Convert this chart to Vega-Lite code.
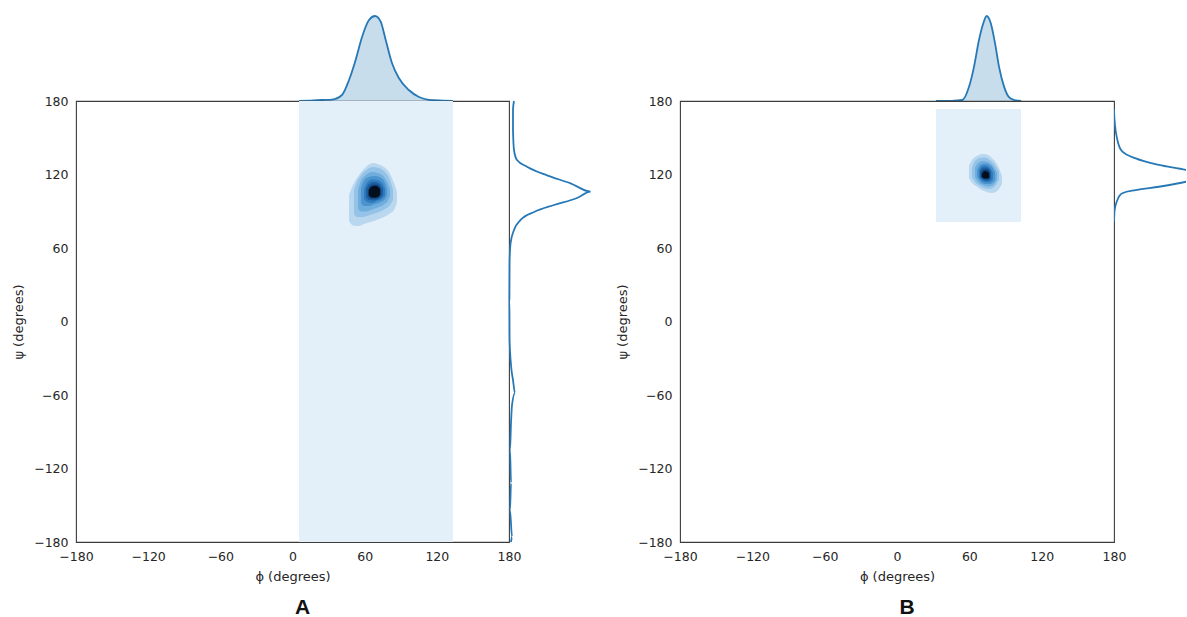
{
  "$schema": "https://vega.github.io/schema/vega-lite/v6.json",
  "background": "white",
  "padding": {"left": 12, "top": 0, "right": 0, "bottom": 0},
  "config": {
    "font": "DejaVu Sans",
    "view": {"stroke": null},
    "axis": {
      "domain": false, "ticks": false, "grid": false,
      "labelFontSize": 12.5, "titleFontSize": 13,
      "labelColor": "#262626", "titleColor": "#262626", "titleFontWeight": "normal",
      "labelPadding": 8, "titlePadding": 8,
      "labelFlush": false, "labelOverlap": false
    }
  },
  "datasets": {
    "bandA": [{"phi1": 5.4, "phi2": 133.4, "psi1": -180, "psi2": 180}],
    "bandB": [{"phi1": 32.3, "phi2": 102.9, "psi1": 81.2, "psi2": 173.5}],
    "contourA": [
      {"level": 1, "phi": 47.0, "lo": 82.0, "hi": 103.3},
      {"level": 1, "phi": 49.5, "lo": 78.8, "hi": 109.8},
      {"level": 1, "phi": 52.0, "lo": 78.0, "hi": 114.7},
      {"level": 1, "phi": 55.3, "lo": 78.0, "hi": 119.6},
      {"level": 1, "phi": 59.4, "lo": 79.6, "hi": 124.5},
      {"level": 1, "phi": 63.6, "lo": 80.8, "hi": 128.2},
      {"level": 1, "phi": 67.8, "lo": 82.0, "hi": 129.4},
      {"level": 1, "phi": 71.9, "lo": 83.7, "hi": 128.2},
      {"level": 1, "phi": 76.1, "lo": 85.3, "hi": 126.1},
      {"level": 1, "phi": 80.2, "lo": 87.8, "hi": 122.0},
      {"level": 1, "phi": 84.4, "lo": 91.0, "hi": 113.1},
      {"level": 1, "phi": 86.9, "lo": 97.1, "hi": 105.7},
      {"level": 2, "phi": 51.1, "lo": 87.8, "hi": 107.3},
      {"level": 2, "phi": 53.6, "lo": 85.3, "hi": 113.9},
      {"level": 2, "phi": 57.8, "lo": 85.3, "hi": 120.4},
      {"level": 2, "phi": 61.9, "lo": 86.1, "hi": 124.1},
      {"level": 2, "phi": 66.9, "lo": 87.8, "hi": 126.1},
      {"level": 2, "phi": 71.9, "lo": 89.4, "hi": 125.3},
      {"level": 2, "phi": 76.9, "lo": 91.8, "hi": 122.0},
      {"level": 2, "phi": 81.1, "lo": 95.1, "hi": 115.5},
      {"level": 2, "phi": 83.6, "lo": 99.2, "hi": 107.3},
      {"level": 3, "phi": 54.5, "lo": 92.2, "hi": 107.3},
      {"level": 3, "phi": 56.9, "lo": 89.8, "hi": 114.7},
      {"level": 3, "phi": 61.1, "lo": 89.8, "hi": 119.6},
      {"level": 3, "phi": 66.1, "lo": 91.4, "hi": 122.0},
      {"level": 3, "phi": 71.1, "lo": 93.1, "hi": 121.2},
      {"level": 3, "phi": 76.1, "lo": 95.5, "hi": 118.0},
      {"level": 3, "phi": 79.4, "lo": 98.8, "hi": 112.2},
      {"level": 3, "phi": 81.1, "lo": 102.4, "hi": 107.3},
      {"level": 4, "phi": 56.9, "lo": 96.7, "hi": 108.2},
      {"level": 4, "phi": 59.4, "lo": 94.3, "hi": 114.7},
      {"level": 4, "phi": 63.6, "lo": 94.3, "hi": 118.0},
      {"level": 4, "phi": 68.6, "lo": 95.9, "hi": 118.8},
      {"level": 4, "phi": 73.6, "lo": 97.6, "hi": 117.1},
      {"level": 4, "phi": 76.9, "lo": 100.0, "hi": 113.1},
      {"level": 4, "phi": 78.6, "lo": 103.3, "hi": 108.2},
      {"level": 5, "phi": 59.4, "lo": 100.0, "hi": 107.3},
      {"level": 5, "phi": 61.9, "lo": 97.6, "hi": 113.1},
      {"level": 5, "phi": 66.1, "lo": 96.7, "hi": 115.9},
      {"level": 5, "phi": 70.2, "lo": 98.4, "hi": 115.5},
      {"level": 5, "phi": 74.4, "lo": 100.0, "hi": 113.1},
      {"level": 5, "phi": 76.9, "lo": 103.3, "hi": 108.2},
      {"level": 6, "phi": 61.1, "lo": 101.6, "hi": 108.2},
      {"level": 6, "phi": 63.6, "lo": 99.2, "hi": 112.2},
      {"level": 6, "phi": 67.8, "lo": 98.8, "hi": 113.9},
      {"level": 6, "phi": 71.9, "lo": 100.0, "hi": 112.7},
      {"level": 6, "phi": 75.2, "lo": 103.3, "hi": 108.2},
      {"level": 7, "phi": 62.8, "lo": 102.4, "hi": 107.3},
      {"level": 7, "phi": 65.3, "lo": 100.4, "hi": 111.0},
      {"level": 7, "phi": 68.6, "lo": 100.4, "hi": 111.8},
      {"level": 7, "phi": 71.9, "lo": 101.2, "hi": 110.6},
      {"level": 7, "phi": 73.6, "lo": 104.1, "hi": 107.3},
      {"level": 8, "phi": 63.6, "lo": 103.3, "hi": 107.3},
      {"level": 8, "phi": 66.1, "lo": 101.2, "hi": 110.2},
      {"level": 8, "phi": 69.4, "lo": 101.2, "hi": 110.6},
      {"level": 8, "phi": 72.7, "lo": 103.3, "hi": 108.2}
    ],
    "contourB": [
      {"level": 1, "phi": 59.7, "lo": 117.1, "hi": 126.9},
      {"level": 1, "phi": 62.2, "lo": 113.1, "hi": 131.8},
      {"level": 1, "phi": 65.5, "lo": 110.6, "hi": 134.7},
      {"level": 1, "phi": 68.8, "lo": 108.2, "hi": 136.3},
      {"level": 1, "phi": 72.2, "lo": 106.5, "hi": 136.7},
      {"level": 1, "phi": 75.5, "lo": 105.3, "hi": 135.9},
      {"level": 1, "phi": 78.8, "lo": 104.9, "hi": 133.5},
      {"level": 1, "phi": 82.1, "lo": 105.7, "hi": 129.8},
      {"level": 1, "phi": 84.6, "lo": 108.2, "hi": 125.3},
      {"level": 1, "phi": 87.1, "lo": 112.2, "hi": 118.8},
      {"level": 2, "phi": 62.2, "lo": 117.9, "hi": 125.3},
      {"level": 2, "phi": 64.7, "lo": 113.9, "hi": 131.0},
      {"level": 2, "phi": 68.8, "lo": 110.6, "hi": 133.5},
      {"level": 2, "phi": 73.0, "lo": 108.6, "hi": 133.9},
      {"level": 2, "phi": 77.1, "lo": 108.2, "hi": 131.8},
      {"level": 2, "phi": 81.3, "lo": 110.6, "hi": 127.8},
      {"level": 2, "phi": 84.6, "lo": 115.9, "hi": 122.4},
      {"level": 3, "phi": 64.7, "lo": 117.9, "hi": 125.3},
      {"level": 3, "phi": 67.2, "lo": 113.9, "hi": 129.4},
      {"level": 3, "phi": 71.3, "lo": 111.4, "hi": 131.0},
      {"level": 3, "phi": 75.5, "lo": 110.2, "hi": 130.2},
      {"level": 3, "phi": 79.6, "lo": 111.4, "hi": 126.9},
      {"level": 3, "phi": 82.9, "lo": 115.5, "hi": 121.2},
      {"level": 4, "phi": 66.4, "lo": 117.9, "hi": 123.7},
      {"level": 4, "phi": 68.8, "lo": 114.7, "hi": 127.8},
      {"level": 4, "phi": 73.0, "lo": 112.2, "hi": 129.0},
      {"level": 4, "phi": 77.1, "lo": 112.2, "hi": 127.8},
      {"level": 4, "phi": 81.3, "lo": 115.5, "hi": 122.0},
      {"level": 5, "phi": 68.0, "lo": 117.9, "hi": 123.7},
      {"level": 5, "phi": 70.5, "lo": 114.7, "hi": 126.9},
      {"level": 5, "phi": 73.8, "lo": 113.5, "hi": 127.3},
      {"level": 5, "phi": 77.1, "lo": 113.9, "hi": 125.3},
      {"level": 5, "phi": 79.6, "lo": 116.3, "hi": 121.2},
      {"level": 6, "phi": 68.8, "lo": 117.9, "hi": 122.9},
      {"level": 6, "phi": 71.3, "lo": 115.5, "hi": 125.7},
      {"level": 6, "phi": 74.7, "lo": 114.7, "hi": 125.7},
      {"level": 6, "phi": 78.0, "lo": 116.3, "hi": 122.0},
      {"level": 7, "phi": 69.7, "lo": 117.9, "hi": 121.2},
      {"level": 7, "phi": 72.2, "lo": 116.3, "hi": 124.1},
      {"level": 7, "phi": 74.7, "lo": 115.9, "hi": 124.1},
      {"level": 7, "phi": 77.1, "lo": 117.1, "hi": 121.2},
      {"level": 8, "phi": 70.5, "lo": 117.9, "hi": 120.4},
      {"level": 8, "phi": 73.0, "lo": 116.7, "hi": 122.9},
      {"level": 8, "phi": 76.3, "lo": 117.1, "hi": 121.2}
    ],
    "topA": [
      {"phi": 5.4, "density": 0}, {"phi": 15, "density": 0.0002}, {"phi": 24.5, "density": 0.0005},
      {"phi": 32.8, "density": 0.0007}, {"phi": 41.1, "density": 0.003}, {"phi": 47.0, "density": 0.0105},
      {"phi": 52.5, "density": 0.0205}, {"phi": 57.8, "density": 0.032}, {"phi": 63.6, "density": 0.0405},
      {"phi": 68.6, "density": 0.0425}, {"phi": 73.3, "density": 0.0397}, {"phi": 77.5, "density": 0.0305},
      {"phi": 82.7, "density": 0.019}, {"phi": 88.4, "density": 0.0115}, {"phi": 96.7, "density": 0.0055},
      {"phi": 105.2, "density": 0.002}, {"phi": 113.5, "density": 0.0006}, {"phi": 125, "density": 0.0002},
      {"phi": 133.4, "density": 0}
    ],
    "rightA": [
      {"psi": 180, "density": 0.0025}, {"psi": 172.7, "density": 0.002}, {"psi": 156.3, "density": 0.002},
      {"psi": 140, "density": 0.0025}, {"psi": 131.8, "density": 0.004}, {"psi": 126.4, "density": 0.009},
      {"psi": 119.3, "density": 0.019}, {"psi": 112.8, "density": 0.0308}, {"psi": 106, "density": 0.0408},
      {"psi": 100.8, "density": 0.034}, {"psi": 95.1, "density": 0.0225}, {"psi": 89.6, "density": 0.0128},
      {"psi": 82.9, "density": 0.0058}, {"psi": 74.7, "density": 0.0025}, {"psi": 64.1, "density": 0.0008},
      {"psi": 49.8, "density": 0.0003}, {"psi": 17.6, "density": 0.0002}, {"psi": -15.1, "density": 0.0003},
      {"psi": -35.5, "density": 0.001}, {"psi": -47.8, "density": 0.002}, {"psi": -58.4, "density": 0.003},
      {"psi": -68.2, "density": 0.0015}, {"psi": -82.9, "density": 0.001}, {"psi": -104.9, "density": 0.0005},
      {"psi": -131.8, "density": 0.001}, {"psi": -153.9, "density": 0.0005}, {"psi": -175.9, "density": 0.0015},
      {"psi": -180, "density": 0.001}
    ],
    "topB": [
      {"phi": 32.3, "density": 0}, {"phi": 45, "density": 0.0001}, {"phi": 54.2, "density": 0.0005},
      {"phi": 59.8, "density": 0.0072}, {"phi": 63.9, "density": 0.0172}, {"phi": 68.0, "density": 0.0305},
      {"phi": 71.6, "density": 0.0389}, {"phi": 74.4, "density": 0.0425}, {"phi": 77.8, "density": 0.0389},
      {"phi": 81.3, "density": 0.0289}, {"phi": 84.6, "density": 0.0172}, {"phi": 88.8, "density": 0.0072},
      {"phi": 92.9, "density": 0.0019}, {"phi": 97.1, "density": 0.0005}, {"phi": 102.9, "density": 0}
    ],
    "rightB": [
      {"psi": 173.5, "density": 0}, {"psi": 165.9, "density": 0.0002}, {"psi": 148.2, "density": 0.0017},
      {"psi": 138.6, "density": 0.0042}, {"psi": 133.2, "density": 0.0109}, {"psi": 127.8, "density": 0.0225},
      {"psi": 123.7, "density": 0.036}, {"psi": 118.8, "density": 0.046}, {"psi": 114.1, "density": 0.036},
      {"psi": 110.0, "density": 0.0225}, {"psi": 107.3, "density": 0.0109}, {"psi": 104.7, "density": 0.0042},
      {"psi": 99.2, "density": 0.0017}, {"psi": 91.0, "density": 0.0003}, {"psi": 81.2, "density": 0}
    ]
  },
  "columns": 4,
  "spacing": 0,
  "align": "each",
  "bounds": "flush",
  "concat": [
    {
      "width": 433, "height": 101,
      "data": {"name": "topA"},
      "encoding": {
        "x": {"field": "phi", "type": "quantitative", "scale": {"domain": [-180, 180], "nice": false, "zero": false}, "axis": null},
        "y": {"field": "density", "type": "quantitative", "scale": {"domain": [0, 0.0505], "nice": false}, "axis": null}
      },
      "layer": [
        {"mark": {"type": "area", "fill": "#1f77b4", "fillOpacity": 0.25, "interpolate": "monotone"}},
        {"mark": {"type": "line", "stroke": "#2678b6", "strokeWidth": 1.8, "interpolate": "monotone"}}
      ]
    },
    {"width": 1, "height": 1, "data": {"values": []}, "mark": {"type": "rect"}, "encoding": {}},
    {
      "width": 434, "height": 101,
      "data": {"name": "topB"},
      "encoding": {
        "x": {"field": "phi", "type": "quantitative", "scale": {"domain": [-180, 180], "nice": false, "zero": false}, "axis": null},
        "y": {"field": "density", "type": "quantitative", "scale": {"domain": [0, 0.0505], "nice": false}, "axis": null}
      },
      "layer": [
        {"mark": {"type": "area", "fill": "#1f77b4", "fillOpacity": 0.25, "interpolate": "monotone"}},
        {"mark": {"type": "line", "stroke": "#2678b6", "strokeWidth": 1.8, "interpolate": "monotone"}}
      ]
    },
    {"width": 1, "height": 1, "data": {"values": []}, "mark": {"type": "rect"}, "encoding": {}},
    {
      "width": 433, "height": 441,
      "view": {"stroke": "#3c3c3c", "strokeWidth": 1.1},
      "title": {"text": "A", "orient": "bottom", "anchor": "middle", "font": "Liberation Sans", "fontSize": 21, "fontWeight": "bold", "color": "#111111", "offset": 13, "dx": 10},
      "layer": [
        {
          "data": {"name": "bandA"},
          "mark": {"type": "rect", "fill": "#e4f0f9"},
          "encoding": {
            "x": {"field": "phi1", "type": "quantitative", "scale": {"domain": [-180, 180], "nice": false, "zero": false}, "axis": {"title": "ϕ (degrees)", "values": [-180, -120, -60, 0, 60, 120, 180]}},
            "x2": {"field": "phi2"},
            "y": {"field": "psi1", "type": "quantitative", "scale": {"domain": [-180, 180], "nice": false, "zero": false}, "axis": {"title": "ψ (degrees)", "values": [-180, -120, -60, 0, 60, 120, 180]}},
            "y2": {"field": "psi2"}
          }
        },
        {
          "data": {"name": "contourA"},
          "mark": {"type": "area", "interpolate": "monotone"},
          "encoding": {
            "x": {"field": "phi", "type": "quantitative", "axis": {"title": "ϕ (degrees)", "values": [-180, -120, -60, 0, 60, 120, 180]}},
            "y": {"field": "hi", "type": "quantitative", "stack": null, "axis": {"title": "ψ (degrees)", "values": [-180, -120, -60, 0, 60, 120, 180]}},
            "y2": {"field": "lo"},
            "color": {"field": "level", "type": "ordinal", "scale": {"domain": [1, 2, 3, 4, 5, 6, 7, 8], "range": ["#b9d8f0", "#95c3e8", "#6faddd", "#4c94cf", "#2f7bbd", "#1c5e9f", "#0f3f74", "#040f1e"]}, "legend": null}
          }
        }
      ]
    },
    {
      "width": 171, "height": 441,
      "data": {"name": "rightA"},
      "encoding": {
        "x": {"field": "density", "type": "quantitative", "scale": {"domain": [0, 0.0855], "nice": false}, "axis": null},
        "y": {"field": "psi", "type": "quantitative", "scale": {"domain": [-180, 180], "nice": false, "zero": false}, "axis": null},
        "order": {"field": "psi", "type": "quantitative"}
      },
      "layer": [
        {"mark": {"type": "area", "orient": "horizontal", "fill": "#1f77b4", "fillOpacity": 0.25, "interpolate": "monotone"}},
        {"mark": {"type": "line", "orient": "horizontal", "stroke": "#2678b6", "strokeWidth": 1.8, "interpolate": "monotone"}}
      ]
    },
    {
      "width": 434, "height": 441,
      "view": {"stroke": "#3c3c3c", "strokeWidth": 1.1},
      "title": {"text": "B", "orient": "bottom", "anchor": "middle", "font": "Liberation Sans", "fontSize": 21, "fontWeight": "bold", "color": "#111111", "offset": 13, "dx": 10},
      "layer": [
        {
          "data": {"name": "bandB"},
          "mark": {"type": "rect", "fill": "#e4f0f9"},
          "encoding": {
            "x": {"field": "phi1", "type": "quantitative", "scale": {"domain": [-180, 180], "nice": false, "zero": false}, "axis": {"title": "ϕ (degrees)", "values": [-180, -120, -60, 0, 60, 120, 180]}},
            "x2": {"field": "phi2"},
            "y": {"field": "psi1", "type": "quantitative", "scale": {"domain": [-180, 180], "nice": false, "zero": false}, "axis": {"title": "ψ (degrees)", "values": [-180, -120, -60, 0, 60, 120, 180]}},
            "y2": {"field": "psi2"}
          }
        },
        {
          "data": {"name": "contourB"},
          "mark": {"type": "area", "interpolate": "monotone"},
          "encoding": {
            "x": {"field": "phi", "type": "quantitative", "axis": {"title": "ϕ (degrees)", "values": [-180, -120, -60, 0, 60, 120, 180]}},
            "y": {"field": "hi", "type": "quantitative", "stack": null, "axis": {"title": "ψ (degrees)", "values": [-180, -120, -60, 0, 60, 120, 180]}},
            "y2": {"field": "lo"},
            "color": {"field": "level", "type": "ordinal", "scale": {"domain": [1, 2, 3, 4, 5, 6, 7, 8], "range": ["#b9d8f0", "#95c3e8", "#6faddd", "#4c94cf", "#2f7bbd", "#1c5e9f", "#0f3f74", "#040f1e"]}, "legend": null}
          }
        }
      ]
    },
    {
      "width": 72, "height": 441,
      "data": {"name": "rightB"},
      "encoding": {
        "x": {"field": "density", "type": "quantitative", "scale": {"domain": [0, 0.036], "nice": false}, "axis": null},
        "y": {"field": "psi", "type": "quantitative", "scale": {"domain": [-180, 180], "nice": false, "zero": false}, "axis": null},
        "order": {"field": "psi", "type": "quantitative"}
      },
      "layer": [
        {"mark": {"type": "area", "orient": "horizontal", "fill": "#1f77b4", "fillOpacity": 0.25, "interpolate": "monotone", "clip": true}},
        {"mark": {"type": "line", "orient": "horizontal", "stroke": "#2678b6", "strokeWidth": 1.8, "interpolate": "monotone", "clip": true}}
      ]
    }
  ]
}
